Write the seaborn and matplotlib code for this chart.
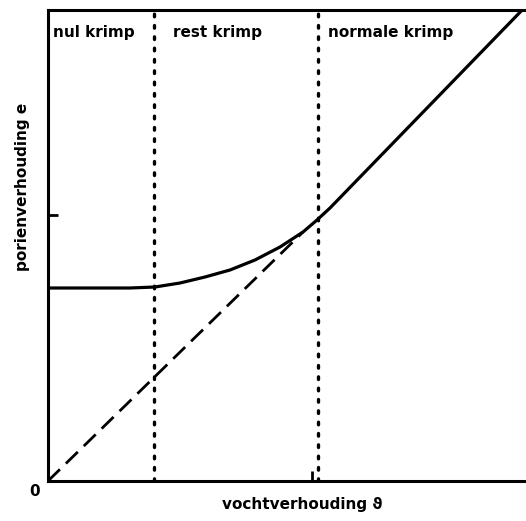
import matplotlib
matplotlib.use('Agg')
import matplotlib.pyplot as plt
import seaborn as sns
import pandas as pd

vocht_kromme = [0, 82, 107, 132, 157, 182, 207, 232, 255, 269, 282, 480]
porien_kromme = [193, 193, 194, 198, 204, 211, 221, 234, 249, 261, 273, 477]

# lijn van normale krimp, doorgetrokken naar de oorsprong
vocht_lijn = [0, 255]
porien_lijn = [0, 249]

# grenzen tussen de krimpfasen
grenzen = [106, 270]
fasen = ['nul krimp', 'rest krimp', 'normale krimp']
fase_x = [5, 125, 280]

# streepjes op de assen
x_tick = [264]
y_tick = [266]

sns.set_style('white')
plt.rcParams['font.family'] = ['DejaVu Sans']
plt.rcParams['font.weight'] = 'bold'
plt.rcParams['text.color'] = 'black'

fig = plt.figure(figsize=(5.26, 5.21), dpi=100)
ax = fig.add_axes([48 / 526, 1 - 481 / 521, 476 / 526, 471 / 521])

df_k = pd.DataFrame({'vocht': vocht_kromme, 'porien': porien_kromme})
df_l = pd.DataFrame({'vocht': vocht_lijn, 'porien': porien_lijn})

sns.lineplot(data=df_k, x='vocht', y='porien', ax=ax, color='black', lw=2.3,
             sort=False, estimator=None)
sns.lineplot(data=df_l, x='vocht', y='porien', ax=ax, color='black', lw=2,
             sort=False, estimator=None)
ax.lines[-1].set_dashes((6, 3))

for g in grenzen:
    ax.axvline(g, color='black', lw=2.4, dashes=(0.8, 2.6), dash_capstyle='round')

for naam, xp in zip(fasen, fase_x):
    ax.text(xp, 449, naam, fontsize=11, fontweight='bold', ha='left',
            va='center', color='black')

ax.set_xlim(0, 476)
ax.set_ylim(0, 471)
ax.set_xticks(x_tick)
ax.set_yticks(y_tick)
ax.tick_params(direction='in', length=7, width=2, color='black',
               bottom=True, left=True, labelbottom=False, labelleft=False)
ax.set_xlabel('')
ax.set_ylabel('')

for kant in ['left', 'bottom', 'top']:
    ax.spines[kant].set_linewidth(2.2)
    ax.spines[kant].set_color('black')
ax.spines['right'].set_visible(False)

ax.text(-13, -11, '0', fontsize=11, fontweight='bold', ha='center', va='center',
        clip_on=False, color='black')
fig.text(302 / 526, 1 - 505 / 521, 'vochtverhouding ϑ', fontsize=11,
         fontweight='bold', ha='center', va='center', color='black')
fig.text(23 / 526, 1 - 187 / 521, 'porienverhouding e', fontsize=11,
         fontweight='bold', ha='center', va='center', rotation=90, color='black')

plt.savefig('out.png', dpi=100)
